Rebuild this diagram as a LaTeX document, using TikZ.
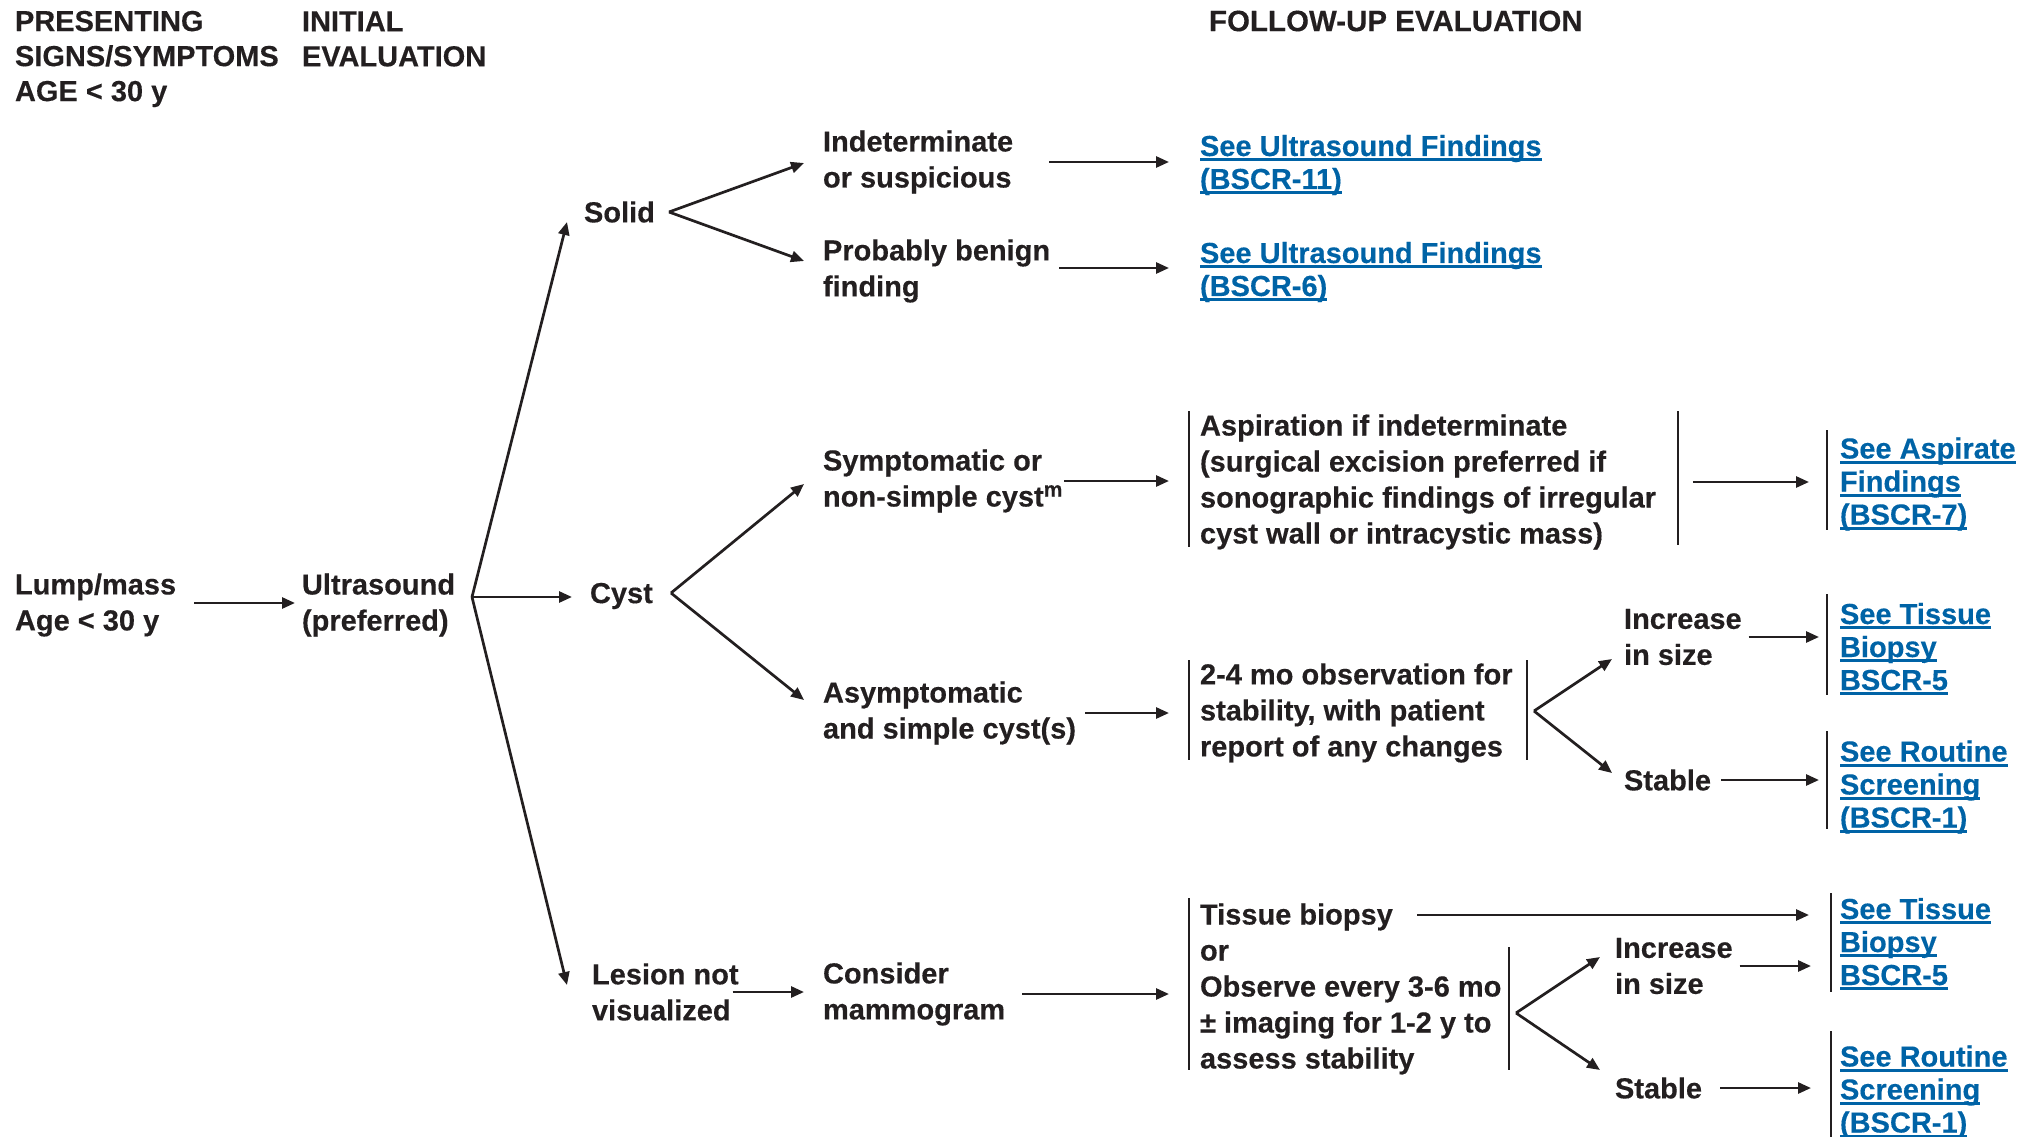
\documentclass[tikz,border=0pt]{standalone}
\usepackage{fontspec}
\setmainfont{Liberation Sans}[BoldFeatures={FakeBold=0.3}]
\usetikzlibrary{arrows.meta,calc}
\definecolor{ink}{RGB}{35,31,32}
\definecolor{linkblue}{RGB}{0,99,166}
\newsavebox\lnkbox
\newcommand\lnk[1]{\sbox\lnkbox{#1}\rlap{\rule[-5pt]{\wd\lnkbox}{2.6pt}}\usebox\lnkbox}
\newcommand\supm{\raisebox{10pt}{\fontsize{21}{21}\selectfont m}}
\begin{document}
\begin{tikzpicture}[x=1pt,y=-1pt,
  txt/.style={anchor=west, inner sep=0pt, outer sep=0pt, align=left, text=ink,
    font=\bfseries\fontsize{29}{36}\selectfont},
  hdr/.style={txt, font=\bfseries\fontsize{29}{35}\selectfont},
  lnktxt/.style={txt, text=linkblue, font=\bfseries\fontsize{29}{33}\selectfont},
  arr/.style={draw=ink, line width=2.7pt, -{Triangle[length=13pt,width=11pt]}},
  bar/.style={draw=ink, line width=2.6pt}]
\useasboundingbox (0,0) rectangle (2026,1137);

% headers
\node[hdr] (hdrA) at (15,59) {PRESENTING\\SIGNS/SYMPTOMS\\AGE < 30 y};
\node[hdr] (hdrB) at (302,39) {INITIAL\\EVALUATION};
\node[hdr] (hdrC) at (1209,21) {\fontsize{29.5}{35}\selectfont FOLLOW-UP EVALUATION};

% main nodes
\node[txt] (lump) at (15,605) {Lump/mass\\Age < 30 y};
\node[txt] (us) at (302,605) {Ultrasound\\(preferred)};
\node[txt] (solid) at (584,212) {Solid};
\node[txt] (cyst) at (590,596) {Cyst};
\node[txt] (lesion) at (592,992) {Lesion not\\visualized};

\node[txt] (ind) at (823,162) {Indeterminate\\or suspicious};
\node[txt] (prob) at (823,271) {Probably benign\\finding};
\node[lnktxt] (l1) at (1200,165) {\lnk{See Ultrasound Findings}\\\lnk{(BSCR-11)}};
\node[lnktxt] (l2) at (1200,272) {\lnk{See Ultrasound Findings}\\\lnk{(BSCR-6)}};

\node[txt] (sym) at (823,481) {Symptomatic or\\non-simple cyst\supm};
\node[txt] (asp) at (1200,482) {Aspiration if indeterminate\\(surgical excision preferred if\\sonographic findings of irregular\\cyst wall or intracystic mass)};
\node[lnktxt] (l3) at (1840,484) {\lnk{See Aspirate}\\\lnk{Findings}\\\lnk{(BSCR-7)}};

\node[txt] (asym) at (823,713) {Asymptomatic\\and simple cyst(s)};
\node[txt] (obs) at (1200,713) {2-4 mo observation for\\stability, with patient\\report of any changes};
\node[txt] (inc1) at (1624,637) {Increase\\in size};
\node[lnktxt] (l4) at (1840,649) {\lnk{See Tissue}\\\lnk{Biopsy}\\\lnk{BSCR-5}};
\node[txt] (stab1) at (1624,780) {Stable};
\node[lnktxt] (l5) at (1840,787) {\lnk{See Routine}\\\lnk{Screening}\\\lnk{(BSCR-1)}};

\node[txt] (cons) at (823,994) {Consider\\mammogram};
\node[txt] (tis) at (1200,989) {Tissue biopsy\\or\\Observe every 3-6 mo\\± imaging for 1-2 y to\\assess stability};
\node[txt] (inc2) at (1615,966) {Increase\\in size};
\node[lnktxt] (l6) at (1840,944) {\lnk{See Tissue}\\\lnk{Biopsy}\\\lnk{BSCR-5}};
\node[txt] (stab2) at (1615,1088) {Stable};
\node[lnktxt] (l7) at (1840,1092) {\lnk{See Routine}\\\lnk{Screening}\\\lnk{(BSCR-1)}};

% bars
\draw[bar] (1189,411) -- (1189,547);
\draw[bar] (1678,411) -- (1678,545);
\draw[bar] (1827,430) -- (1827,530);
\draw[bar] (1189,660) -- (1189,760);
\draw[bar] (1527,660) -- (1527,760);
\draw[bar] (1827,594) -- (1827,695);
\draw[bar] (1827,731) -- (1827,829);
\draw[bar] (1189,898) -- (1189,1070);
\draw[bar] (1509,947) -- (1509,1070);
\draw[bar] (1831,893) -- (1831,992);
\draw[bar] (1831,1031) -- (1831,1137);

% branch points
\coordinate (bU) at (472,597);
\coordinate (bS) at (669,212);
\coordinate (bC) at (671,593);
\coordinate (bO) at (1534,711);
\coordinate (bT) at (1516,1013);
\coordinate (tb) at (1417,915);

% connectors
\draw[arr, shorten <=18pt, shorten >=7pt] ([yshift=2pt]lump.east) -- ([yshift=2pt]lump.east -| us.west);
\draw[arr] (bU) -- ($(solid.west)+(-17,10)$);
\draw[arr, shorten >=18pt] (bU) -- (bU -| cyst.west);
\draw[arr] (bU) -- ($(lesion.west)+(-25,-7)$);

\draw[arr] (bS) -- ($(ind.west)+(-19,1)$);
\draw[arr] (bS) -- ($(prob.west)+(-19,-10)$);
\draw[arr, shorten <=36pt, shorten >=31pt] (ind.east) -- (ind.east -| l1.west);
\draw[arr, shorten <=9pt, shorten >=31pt] ([yshift=3pt]prob.east) -- ([yshift=3pt]prob.east -| l2.west);

\draw[arr] (bC) -- ($(sym.west)+(-19,3)$);
\draw[arr] (bC) -- ($(asym.west)+(-19,-13)$);
\draw[arr, shorten <=2pt, shorten >=31pt] (sym.east) -- (sym.east -| asp.west);
\draw[arr, shorten <=37pt, shorten >=31pt] (asp.east) -- (asp.east -| l3.west);
\draw[arr, shorten <=9pt, shorten >=31pt] (asym.east) -- (asym.east -| obs.west);

\draw[arr] (bO) -- ($(inc1.west)+(-12,22)$);
\draw[arr] (bO) -- ($(stab1.west)+(-12,-7)$);
\draw[arr, shorten <=7pt, shorten >=21pt] (inc1.east) -- (inc1.east -| l4.west);
\draw[arr, shorten <=10pt, shorten >=21pt] (stab1.east) -- (stab1.east -| l5.west);

\draw[arr, shorten <=-6pt, shorten >=19pt] (lesion.east) -- (lesion.east -| cons.west);
\draw[arr, shorten <=17pt, shorten >=31pt] (cons.east) -- (cons.east -| tis.west);
\draw[arr, shorten >=31pt] (tb) -- (tb -| l6.west);
\draw[arr] (bT) -- ($(inc2.west)+(-15,-9)$);
\draw[arr] (bT) -- ($(stab2.west)+(-15,-18)$);
\draw[arr, shorten <=7pt, shorten >=29pt] (inc2.east) -- (inc2.east -| l6.west);
\draw[arr, shorten <=18pt, shorten >=29pt] (stab2.east) -- (stab2.east -| l7.west);
\end{tikzpicture}
\end{document}
